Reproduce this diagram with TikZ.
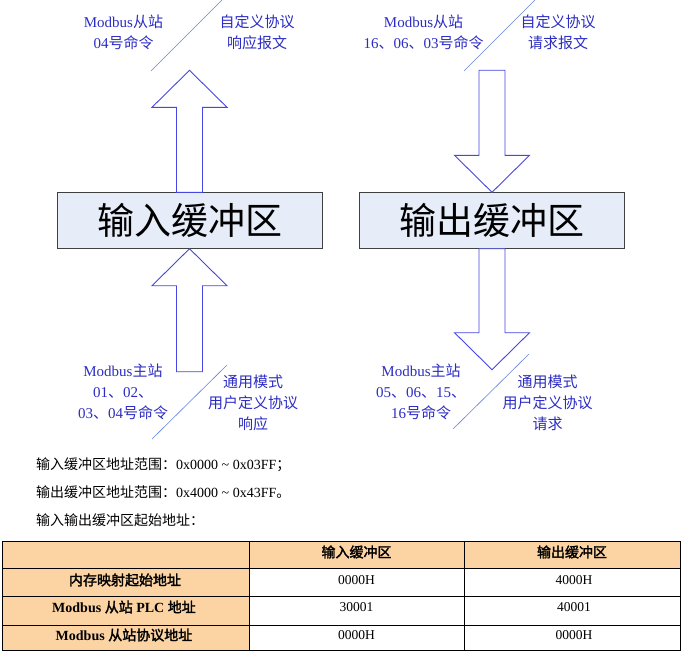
\documentclass[tikz,border=0pt]{standalone}
\usepackage{fontspec}
\setmainfont{Liberation Serif}
\newfontfamily\zhfont[AutoFakeBold=2]{Noto Sans CJK SC}
\def\zh#1{{\zhfont #1}}
\definecolor{msgblue}{RGB}{44,44,196}
\definecolor{arrowblue}{RGB}{70,70,226}
\definecolor{slashblue}{RGB}{100,130,216}
\definecolor{bufferfill}{RGB}{230,236,248}
\definecolor{peach}{RGB}{252,212,164}

\begin{document}
\begin{tikzpicture}[x=1pt, y=-1pt,
          every node/.style = {align=center, inner sep=0pt},
          buffer/.style = {draw=black!75, fill=bufferfill, minimum width=265pt,
          minimum height=56pt, font=\fontsize{37}{40}\selectfont},
          blockarrow/.style = {draw=arrowblue, fill=white, line width=0.9pt},
          slash/.style = {draw=slashblue, line width=0.6pt},
          msg/.style = {text=msgblue, font=\fontsize{15}{21}\selectfont},
          note/.style = {anchor=west, font=\fontsize{14}{16}\selectfont},
          headcell/.style = {font=\bfseries\fontsize{14}{16}\selectfont},
          valcell/.style = {font=\fontsize{13.5}{15}\selectfont}
          ]
          \useasboundingbox (0,0) rectangle (684,658);
          \node[buffer] (inbuf) at (189.5,220.5) {\zh{输入缓冲区}};
          \node[buffer] (outbuf) at (492,220.5) {\zh{输出缓冲区}};
          \draw[blockarrow] ([xshift=-13pt]inbuf.north) -- ++(0,-85) -- ++(-24.5,0)
            -- ++(37.5,-37) -- ++(37.5,37) -- ++(-24.5,0) -- ++(0,85) -- cycle;
          \draw[blockarrow] (inbuf.south) -- ++(37.5,37) -- ++(-24.5,0) -- ++(0,86)
            -- ++(-26,0) -- ++(0,-86) -- ++(-24.5,0) -- cycle;
          \draw[blockarrow] (outbuf.north) -- ++(37.5,-37) -- ++(-24.5,0) -- ++(0,-85)
            -- ++(-26,0) -- ++(0,85) -- ++(-24.5,0) -- cycle;
          \draw[blockarrow] ([xshift=-13pt]outbuf.south) -- ++(0,84) -- ++(-24.5,0)
            -- ++(37.5,37) -- ++(37.5,-37) -- ++(-24.5,0) -- ++(0,-84) -- cycle;
          \draw[slash] (151,71) -- (222,0);
          \draw[slash] (464,71) -- (535,0);
          \draw[slash] (152,439) -- (227,365);
          \draw[slash] (453,429) -- (529,354);
          \node[msg] (slavecmdin) at (123.5,32) {Modbus\zh{从站}\\04\zh{号命令}};
          \node[msg] (customin) at (257,32) {\zh{自定义协议}\\\zh{响应报文}};
          \node[msg] (slavecmdout) at (423.5,32) {Modbus\zh{从站}\\16\zh{、}06\zh{、}03\zh{号命令}};
          \node[msg] (customout) at (558,32) {\zh{自定义协议}\\\zh{请求报文}};
          \node[msg] (mastercmdin) at (123,392) {Modbus\zh{主站}\\01\zh{、}02\zh{、}\\03\zh{、}04\zh{号命令}};
          \node[msg] (generalin) at (253,403) {\zh{通用模式}\\\zh{用户定义协议}\\\zh{响应}};
          \node[msg] (mastercmdout) at (421,392) {Modbus\zh{主站}\\05\zh{、}06\zh{、}15\zh{、}\\16\zh{号命令}};
          \node[msg] (generalout) at (547.5,403) {\zh{通用模式}\\\zh{用户定义协议}\\\zh{请求}};
          \node[note] (rangein) at (36,465) {\zh{输入缓冲区地址范围：}0x0000 \textasciitilde{} 0x03FF\zh{；}};
          \node[note] (rangeout) at (36,492.5) {\zh{输出缓冲区地址范围：}0x4000 \textasciitilde{} 0x43FF\zh{。}};
          \node[note] (startaddr) at (36,520) {\zh{输入输出缓冲区起始地址：}};
          \fill[peach] (2,541) rectangle (680,568);
          \fill[peach] (2,568) rectangle (249,650);
          \draw[line width=0.8pt] (2,541) rectangle (680,650);
          \draw[line width=0.8pt] (2,568) -- (680,568) (2,596) -- (680,596) (2,625) -- (680,625)
            (249,541) -- (249,650) (464,541) -- (464,650);
          \node[headcell] (colin) at (356.5,552) {\zh{输入缓冲区}};
          \node[headcell] (colout) at (572,552) {\zh{输出缓冲区}};
          \node[headcell] (rowmap) at (125,580) {\zh{内存映射起始地址}};
          \node[headcell] (rowplc) at (124,607) {Modbus \zh{从站} PLC \zh{地址}};
          \node[headcell] (rowproto) at (124,635) {Modbus \zh{从站协议地址}};
          \node[valcell] (mapin) at (356.5,580) {0000H};
          \node[valcell] (mapout) at (574,580) {4000H};
          \node[valcell] (plcin) at (356.5,607) {30001};
          \node[valcell] (plcout) at (574,607) {40001};
          \node[valcell] (protoin) at (356.5,635) {0000H};
          \node[valcell] (protoout) at (574,635) {0000H};
\end{tikzpicture}
\end{document}
